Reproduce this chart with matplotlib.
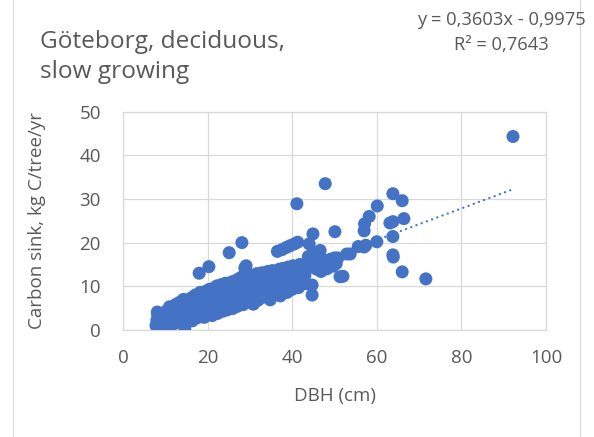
import matplotlib
matplotlib.use("Agg")
import matplotlib.pyplot as plt
import numpy as np
from matplotlib.lines import Line2D

plt.rcParams['font.family'] = ['Open Sans', 'DejaVu Sans']

# tree diameter at breast height (cm) and yearly carbon sink (kg C/tree/yr)
dbh = [
    7.8, 8.0, 8.2, 8.1, 8.6, 8.9,
    9.2, 9.4, 9.6, 9.9, 10.1, 10.3,
    10.6, 10.8, 11.0, 11.2, 11.4, 11.6,
    12.0, 12.2, 12.4, 12.5, 12.9, 13.1,
    13.3, 13.6, 13.8, 14.1, 14.3, 14.6,
    14.8, 15.0, 15.2, 15.5, 15.7, 16.0,
    16.2, 16.4, 16.6, 16.9, 17.1, 17.3,
    17.6, 17.8, 18.0, 18.2, 18.4, 18.6,
    18.9, 19.2, 19.4, 19.6, 19.8, 20.1,
    20.3, 20.4, 20.6, 20.8, 21.1, 21.3,
    21.5, 21.8, 22.0, 22.2, 22.4, 22.6,
    22.9, 23.1, 23.3, 23.6, 23.8, 24.0,
    24.2, 24.4, 24.6, 24.9, 25.1, 25.2,
    25.4, 25.7, 25.9, 26.1, 26.3, 26.6,
    26.8, 27.0, 27.2, 27.5, 27.7, 28.0,
    28.1, 28.2, 28.4, 28.6, 28.8, 29.1,
    29.0, 29.3, 29.5, 29.8, 30.0, 30.2,
    30.5, 30.8, 31.0, 31.3, 31.6, 31.9,
    32.2, 32.5, 32.8, 33.0, 33.3, 33.6,
    33.9, 34.2, 34.5, 34.8, 35.0, 35.3,
    35.6, 35.9, 36.2, 36.5, 36.6, 36.9,
    37.2, 37.4, 37.6, 37.8, 38.1, 38.4,
    38.6, 38.8, 39.0, 39.3, 39.5, 39.7,
    40.0, 40.2, 40.5, 40.7, 41.0, 41.1,
    41.3, 41.5, 41.8, 42.1, 42.4, 42.8,
    43.0, 43.2, 43.5, 43.8, 44.0, 44.2,
    44.7, 44.7, 44.8, 44.9, 45.2, 45.7,
    45.8, 46.0, 46.6, 46.8, 47.0, 47.4,
    47.8, 48.0, 48.2, 49.0, 49.6, 50.0,
    50.1, 50.4, 50.8, 51.3, 52.0, 52.9,
    53.7, 55.6, 57.0, 57.4, 57.0, 57.1,
    58.2, 60.1, 60.0, 63.1, 63.8, 63.8,
    63.8, 63.8, 63.9, 66.0, 66.4, 66.0,
    71.6, 92.2,
]
sink = [
    1.0, 2.2, 3.4, 4.1, 1.6, 2.9,
    0.8, 3.8, 2.0, 1.2, 3.0, 4.4,
    0.6, 2.4, 5.3, 1.6, 3.6, 4.7,
    1.4, 2.8, 5.8, 4.1, 1.9, 3.3,
    6.3, 5.0, 2.4, 4.2, 7.0, 0.3,
    1.8, 3.2, 5.7, 6.6, 2.6, 4.5,
    7.4, 2.1, 5.4, 3.5, 8.0, 6.5,
    2.8, 4.7, 13.0, 8.6, 3.4, 5.9,
    7.2, 2.9, 4.4, 8.9, 6.5, 3.6,
    14.5, 9.3, 5.3, 7.7, 3.3, 6.2,
    9.6, 4.5, 8.4, 10.1, 3.8, 6.8,
    5.4, 9.2, 10.4, 4.3, 7.6, 6.1,
    10.7, 8.6, 4.6, 5.6, 17.7, 9.7,
    7.2, 11.0, 4.9, 8.3, 6.4, 11.3,
    9.9, 5.4, 7.7, 11.8, 6.6, 9.2,
    20.0, 12.2, 5.8, 10.6, 14.2, 14.7,
    8.0, 12.6, 6.4, 11.2, 9.4, 7.1,
    12.5, 5.9, 10.2, 8.2, 12.9, 6.8,
    11.0, 9.3, 13.1, 7.5, 10.6, 12.0,
    8.4, 13.4, 9.9, 6.9, 11.5, 13.6,
    8.1, 10.4, 12.4, 18.0, 9.2, 13.9,
    7.8, 11.1, 18.4, 14.1, 9.8, 12.0,
    18.9, 8.6, 14.4, 10.8, 19.3, 12.6,
    9.3, 14.7, 19.7, 11.4, 13.0, 28.9,
    20.1, 9.7, 15.0, 11.9, 13.7, 14.4,
    12.5, 10.6, 14.0, 16.8, 19.7, 14.5,
    10.3, 8.0, 17.2, 22.0, 15.0, 17.7,
    13.9, 15.2, 18.2, 13.4, 15.6, 14.6,
    33.5, 15.9, 14.0, 16.2, 14.6, 16.5,
    22.5, 15.2, 16.5, 12.2, 12.3, 17.4,
    17.4, 19.1, 19.0, 19.4, 22.7, 24.3,
    26.0, 28.4, 20.2, 24.5, 24.8, 21.4,
    31.2, 17.2, 16.7, 29.6, 25.5, 13.3,
    11.7, 44.3,
]

# linear trendline
slope = 0.3603
intercept = -0.9975
r_squared = 0.7643

blue = '#4472C4'
text_grey = '#595959'
grid_grey = '#D9D9D9'

fig = plt.figure(figsize=(5.94, 4.37), dpi=100)
ax = fig.add_axes([0.2071, 0.2449, 0.7121, 0.4997])

ax.scatter(dbh, sink, s=88, color=blue, edgecolors='none', zorder=3)

xs = np.array([min(dbh), max(dbh)])
ax.plot(xs, slope * xs + intercept, color=blue, linewidth=1.6,
        linestyle=(0, (0.1, 2.4)), dash_capstyle='round', zorder=4)

ax.set_xlim(0, 100)
ax.set_ylim(0, 50)
ax.set_xticks(range(0, 101, 20))
ax.set_yticks(range(0, 51, 10))
ax.grid(True, color=grid_grey, linewidth=0.9)
ax.set_axisbelow(True)
for sp in ax.spines.values():
    sp.set_color(grid_grey)
    sp.set_linewidth(0.9)
ax.tick_params(length=0, labelsize=13.5, labelcolor=text_grey)
ax.tick_params(axis='x', pad=14)
ax.tick_params(axis='y', pad=16)

ax.set_xlabel('DBH (cm)', fontsize=13.5, color=text_grey, labelpad=14)
ax.set_ylabel('Carbon sink, kg C/tree/yr', fontsize=13.5, color=text_grey, labelpad=24)

fig.text(40 / 594, 1 - 57 / 437, 'Göteborg, deciduous,\nslow growing', fontsize=17.6,
         color=text_grey, ha='left', va='center', linespacing=1.3)

eq = f'y = {slope:.4f}x - {abs(intercept):.4f}'.replace('.', ',')
r2 = f'R² = {r_squared:.4f}'.replace('.', ',')
fig.text(501 / 594, 1 - 20 / 437, eq, fontsize=13.2, color=text_grey, ha='center', va='center')
fig.text(501 / 594, 1 - 45 / 437, r2, fontsize=13.2, color=text_grey, ha='center', va='center')

# chart area frame on the sides
fig.add_artist(Line2D([13 / 594, 13 / 594], [0, 1], color=grid_grey, linewidth=0.8))
fig.add_artist(Line2D([580 / 594, 580 / 594], [0, 1], color=grid_grey, linewidth=0.8))

fig.savefig('out.png', dpi=100)
